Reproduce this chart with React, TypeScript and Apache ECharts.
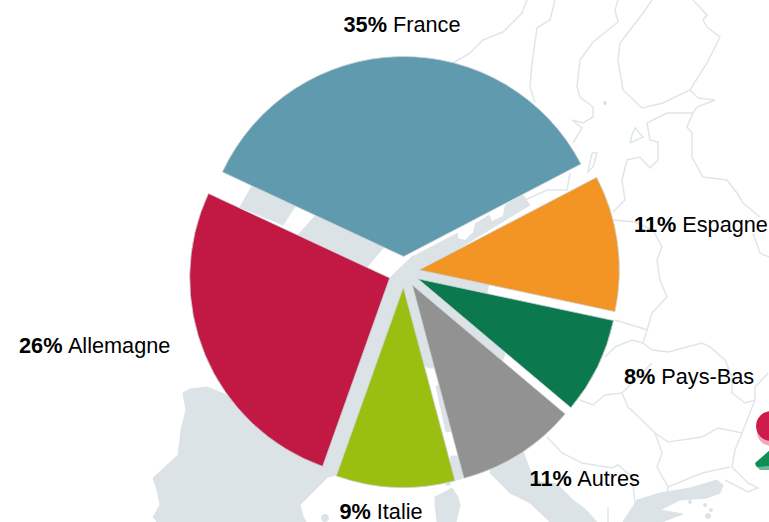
import React, { useEffect, useRef } from "react";
import * as echarts from "echarts";

const countries = ["France", "Espagne", "Pays-Bas", "Autres", "Italie", "Allemagne"];
const shareLabels = ["35%", "11%", "8%", "11%", "9%", "26%"];
const sliceValues = [35.4, 11.0, 7.8, 9.7, 9.6, 26.5];
const sliceColors = ["#5f9aae", "#f29525", "#0c784d", "#929292", "#9abf10", "#c21844"];
const labelCentres: number[][] = [
  [402, 24], [701, 224], [689, 376], [585, 478], [381, 511], [95, 345],
];

const LAND = "#dce3e7";
const landPolygons: number[][][] = [
  // Iberia and south of France
  [[183, 393], [190, 389], [207, 387], [227, 395], [300, 300], [388, 279], [410, 285], [375, 460], [345, 473], [336, 475], [328, 477], [312, 493], [300, 505], [303, 516], [306, 522], [157, 522], [153, 517], [160, 505], [157, 490], [153, 478], [178, 455], [181, 430], [186, 410]],
  // centre and Alps
  [[388, 280], [400, 268], [413, 256], [440, 262], [490, 280], [487, 292], [505, 354], [500, 366], [430, 368], [425, 366], [385, 340]],
  [[436, 386], [445, 385], [460, 430], [446, 432]],
  [[451, 456], [458, 456], [463, 478], [450, 482]],
  // British gap patches
  [[252, 186], [296, 205], [283, 225], [240, 207]],
  [[315, 216], [385, 246], [367, 267], [298, 235]],
  // northern gap
  [[410, 258], [458, 233], [473, 225], [490, 215], [503, 207], [522, 194], [530, 205], [420, 272]],
  // Italy
  [[490, 473], [500, 440], [523, 450], [525, 457], [530, 470], [540, 482], [557, 484], [573, 500], [585, 509], [597, 522], [550, 522], [530, 503], [510, 493]],
  // Sardinia
  [[435, 497], [445, 492], [452, 488], [458, 497], [460, 505], [456, 522], [437, 522], [435, 505]],
  // Greece and Turkey coast
  [[623, 522], [637, 500], [660, 493], [690, 488], [717, 480], [723, 485], [720, 493], [707, 498], [680, 500], [660, 510], [683, 514], [662, 522]],
];
const seaPatches: number[][][] = [
  [[458, 230], [476, 220], [473, 232], [465, 240], [458, 238]],
  [[488, 212], [505, 203], [503, 216], [492, 221]],
];
const smallIslands: number[][] = [[325, 518, 4], [448, 483, 3], [690, 502, 2], [705, 505, 2], [708, 516, 3], [711, 510, 2], [605, 103, 2]];

const borderLines: number[][][] = [
  [[527, 0], [522, 13], [503, 32], [483, 40], [470, 53], [453, 63]],
  [[555, 0], [550, 20], [537, 28], [532, 63], [530, 87], [535, 103]],
  [[618, 0], [615, 10], [618, 22], [593, 42], [580, 60], [577, 87], [580, 97], [593, 107], [593, 117], [583, 123], [572, 120], [582, 128], [573, 143]],
  [[652, 0], [643, 13], [620, 43], [618, 60], [623, 90], [642, 108], [663, 103], [690, 90], [707, 63], [720, 37], [707, 27], [703, 20], [707, 15], [693, 0]],
  [[690, 90], [698, 98], [715, 100], [697, 107], [693, 113], [667, 113], [647, 123], [650, 140], [658, 142], [658, 160], [650, 168], [640, 157], [627, 160], [622, 180], [625, 200], [613, 212]],
  [[693, 113], [687, 127], [692, 133], [692, 157], [703, 177], [727, 180], [737, 193], [743, 203], [760, 217]],
  [[630, 143], [643, 137], [635, 128], [632, 135], [630, 143]],
  [[592, 153], [597, 153], [593, 167], [588, 172], [592, 153]],
  [[570, 173], [567, 190], [547, 190], [525, 200]],
  [[613, 220], [635, 222], [653, 230], [662, 247], [657, 260]],
  [[753, 233], [760, 253], [769, 257]],
  [[657, 260], [660, 280], [667, 297], [652, 313], [648, 327], [643, 343], [652, 350], [668, 352], [702, 343], [710, 347], [725, 360], [732, 377], [732, 393], [745, 403], [755, 400], [755, 387], [768, 373]],
  [[615, 320], [648, 330]],
  [[643, 343], [632, 340], [615, 347], [605, 357]],
  [[580, 400], [593, 405], [605, 395], [622, 393], [652, 363]],
  [[622, 393], [628, 407], [642, 420], [655, 433], [668, 442], [702, 437], [718, 428], [742, 433], [755, 400]],
  [[655, 433], [662, 453], [657, 467], [668, 487], [667, 493]],
  [[742, 433], [735, 450], [732, 467], [748, 483], [758, 488], [748, 492], [725, 480]],
  [[547, 437], [562, 453], [582, 463], [612, 468], [618, 465], [632, 477], [635, 503]],
  [[608, 507], [608, 522]],
  [[730, 467], [702, 473], [668, 487]],
];

const richStyles = {
  p: { fontFamily: "Liberation Sans", fontSize: 21.7, fontWeight: "bold", fill: "#000" },
  n: { fontFamily: "Liberation Sans", fontSize: 21.7, fill: "#000" },
};

export default function App() {
  const ref = useRef<HTMLDivElement>(null);
  useEffect(() => {
    const chart = echarts.init(ref.current!, undefined, { renderer: "svg" });
    const graphic: any[] = [
      ...landPolygons.map((points) => ({ type: "polygon", silent: true, shape: { points }, style: { fill: LAND, stroke: LAND, lineWidth: 1 } })),
      ...seaPatches.map((points) => ({ type: "polygon", silent: true, shape: { points }, style: { fill: "#fff" } })),
      ...smallIslands.map(([cx, cy, r]) => ({ type: "circle", silent: true, shape: { cx, cy, r }, style: { fill: LAND } })),
      ...borderLines.map((points) => ({ type: "polyline", silent: true, shape: { points }, style: { fill: "none", stroke: "#dfe6ea", lineWidth: 1.5 } })),
      { type: "circle", silent: true, shape: { cx: 771, cy: 432, r: 14 }, style: { fill: "#f2a9bb" } },
      { type: "circle", silent: true, shape: { cx: 771, cy: 426, r: 15 }, style: { fill: "#cf1b4c" } },
      { type: "polygon", silent: true, shape: { points: [[755, 465], [769, 451], [769, 470], [760, 470]] }, style: { fill: "#6db897" } },
      { type: "polygon", silent: true, shape: { points: [[755, 463], [769, 451], [769, 466], [757, 467]] }, style: { fill: "#0d8f56" } },
      ...countries.map((name, i) => ({
        type: "text",
        silent: true,
        z: 10,
        x: labelCentres[i][0],
        y: labelCentres[i][1],
        style: {
          text: `{p|${shareLabels[i]}}{n| ${name}}`,
          rich: richStyles,
          align: "center",
          verticalAlign: "middle",
          fill: "#000",
        },
      })),
    ];
    chart.setOption({
      animation: false,
      backgroundColor: "#ffffff",
      graphic,
      series: [
        {
          type: "pie",
          center: [404, 272],
          radius: 200,
          startAngle: 155,
          clockwise: true,
          silent: true,
          selectedMode: "multiple",
          selectedOffset: 15.5,
          emphasis: { disabled: true },
          select: { itemStyle: { borderColor: "rgba(205,210,214,0.8)", borderWidth: 1 } },
          itemStyle: { borderColor: "rgba(205,210,214,0.8)", borderWidth: 1 },
          labelLine: { show: false },
          label: { show: false },
          data: countries.map((name, i) => ({
            name,
            value: sliceValues[i],
            selected: true,
            itemStyle: { color: sliceColors[i] },
            select: { itemStyle: { color: sliceColors[i] } },
          })),
        },
      ],
    });
    return () => chart.dispose();
  }, []);
  return <div ref={ref} style={{ position: "absolute", left: 0, top: 0, width: 769, height: 522 }} />;
}
